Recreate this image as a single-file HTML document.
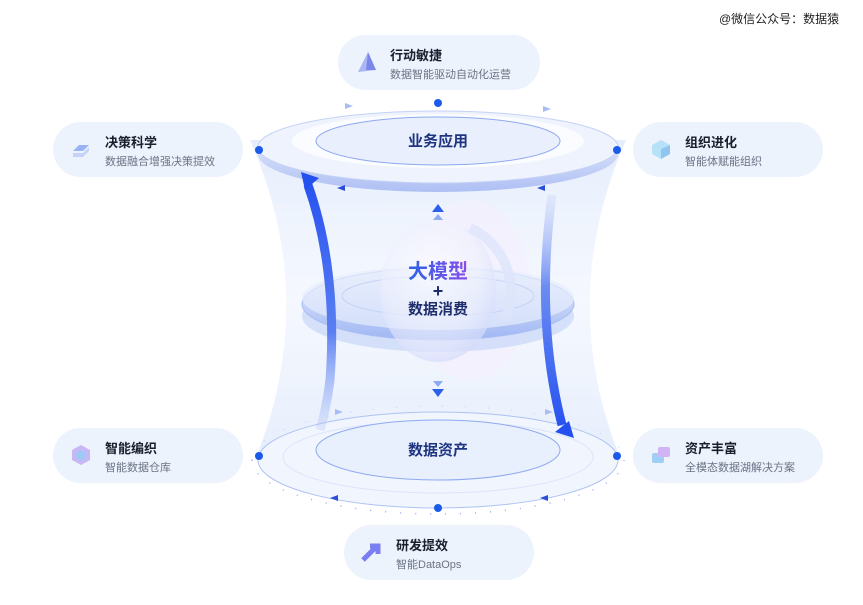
<!DOCTYPE html>
<html><head><meta charset="utf-8"><style>
html,body{margin:0;padding:0;background:#fff;}
body{width:863px;height:605px;position:relative;overflow:hidden;font-family:"Liberation Sans","Noto Sans CJK SC",sans-serif;}
.card{position:absolute;height:55px;border-radius:28px;background:#edf3fd;}
.card .t{position:absolute;left:52px;top:10px;font-size:13px;font-weight:bold;color:#1a1f2e;}
.card .s{position:absolute;left:52px;top:31px;font-size:11px;color:#6b7385;white-space:nowrap;}
.card .ic{position:absolute;left:16px;top:15px;width:24px;height:24px;}
.wm{position:absolute;left:719px;top:10px;font-size:12px;color:#222;}
</style></head><body>
<svg width="863" height="605" style="position:absolute;left:0;top:0">
<defs>
<linearGradient id="fun" x1="0" y1="0" x2="0" y2="1">
<stop offset="0" stop-color="#e3ecfc" stop-opacity=".9"/><stop offset=".5" stop-color="#eef3fd" stop-opacity=".6"/><stop offset="1" stop-color="#e3ecfc" stop-opacity=".9"/></linearGradient>
<radialGradient id="sph" cx=".45" cy=".4" r=".6"><stop offset="0" stop-color="#fff" stop-opacity=".6"/><stop offset=".7" stop-color="#eef0fd" stop-opacity=".6"/><stop offset="1" stop-color="#d6dcfa" stop-opacity=".7"/></radialGradient>
<linearGradient id="rim" x1="0" y1="0" x2="0" y2="1"><stop offset="0" stop-color="#f4f7fe"/><stop offset="1" stop-color="#aebff3"/></linearGradient>
<linearGradient id="arr" x1="0" y1="0" x2="0" y2="1"><stop offset="0" stop-color="#2853f0"/><stop offset=".6" stop-color="#5a7ff2"/><stop offset="1" stop-color="#b5c6f7" stop-opacity=".3"/></linearGradient>
<linearGradient id="arr2" x1="0" y1="0" x2="0" y2="1"><stop offset="0" stop-color="#c4d0f7" stop-opacity=".3"/><stop offset=".4" stop-color="#6b8cf2"/><stop offset="1" stop-color="#2853f0"/></linearGradient>
<linearGradient id="tx" x1="0" x2="1"><stop offset="0" stop-color="#2b63e6"/><stop offset="1" stop-color="#8a4de8"/></linearGradient>
<linearGradient id="disc" x1="0" y1="0" x2="0" y2="1"><stop offset="0" stop-color="#eef3fd"/><stop offset="1" stop-color="#9fb6f3"/></linearGradient>
</defs>
<path d="M250 140 Q320 300 255 460 L621 460 Q556 300 626 140 Z" fill="url(#fun)"/>
<ellipse cx="470" cy="290" rx="60" ry="90" fill="#f6eefd" opacity=".5"/>
<ellipse cx="438" cy="316" rx="136" ry="36" fill="#c8d6f8" opacity=".7"/>
<ellipse cx="438" cy="304" rx="136" ry="36" fill="url(#disc)" stroke="#a9bdf2"/>
<ellipse cx="438" cy="298" rx="136" ry="32" fill="#e6edfc" opacity=".7"/>
<ellipse cx="438" cy="296" rx="96" ry="20" fill="none" stroke="#c7d4f6"/>
<ellipse cx="438" cy="290" rx="58" ry="72" fill="url(#sph)"/>
<path d="M470 228 A70 70 0 0 1 505 320" stroke="#dde5fb" stroke-width="10" fill="none" opacity=".8"/>
<ellipse cx="438" cy="154" rx="180" ry="38" fill="url(#rim)"/>
<ellipse cx="438" cy="147" rx="180" ry="36" fill="#eef3fd" stroke="#c4d2f6"/>
<ellipse cx="438" cy="141" rx="146" ry="27" fill="#fafcff"/>
<ellipse cx="438" cy="141" rx="122" ry="24" fill="#e9effc" stroke="#8fa9ef"/>
<circle cx="438" cy="103" r="4" fill="#1b5bea"/>
<circle cx="259" cy="150" r="4" fill="#1b5bea"/>
<circle cx="617" cy="150" r="4" fill="#1b5bea"/>
<path d="M345 191 l-8 -3 8 -3z M545 191 l-8 -3 8 -3z" fill="#2a4fd6"/>
<path d="M345 109 l8 -3 -8 -3z M543 112 l8 -3 -8 -3z" fill="#a9bdf5"/>
<ellipse cx="438" cy="460" rx="180" ry="48" fill="#f0f5fe" stroke="#aec2f3"/>
<path d="M252 460 A186 54 0 0 0 624 460" fill="none" stroke="#7f9eee" stroke-width="1.5" stroke-dasharray="1 14" opacity=".8"/>
<path d="M252 460 A186 54 0 0 1 624 460" fill="none" stroke="#9fb5f2" stroke-width="1.2" stroke-dasharray="1 22" opacity=".5"/>
<ellipse cx="438" cy="457" rx="155" ry="36" fill="none" stroke="#dbe4fb"/>
<ellipse cx="438" cy="450" rx="122" ry="30" fill="#e9f0fd" stroke="#8fa9ef"/>
<circle cx="259" cy="456" r="4" fill="#1b5bea"/>
<circle cx="617" cy="456" r="4" fill="#1b5bea"/>
<circle cx="438" cy="508" r="4" fill="#1b5bea"/>
<path d="M330 498 l8 -3 0 6z M540 498 l8 -3 0 6z" fill="#2a4fd6"/>
<path d="M335 415 l8 -3 -8 -3z M545 415 l8 -3 -8 -3z" fill="#a9bdf5"/>
<path d="M308 185 Q338 270 330 380 Q326 410 320 430" stroke="url(#arr)" stroke-width="9" fill="none"/>
<path d="M301 172 l18 6 -14 12z" fill="#2450ef"/>
<path d="M552 195 Q535 320 562 425" stroke="url(#arr2)" stroke-width="9" fill="none"/>
<path d="M574 438 l-19 -6 14 -11z" fill="#2450ef"/>
<path d="M432 212 l6 -8 6 8z" fill="#2a61e8"/><path d="M433 220 l5 -6 5 6z" fill="#8eabf2"/>
<path d="M433 381 l5 6 5 -6z" fill="#8eabf2"/><path d="M432 389 l6 8 6 -8z" fill="#2a61e8"/>
<text x="438" y="146" text-anchor="middle" font-size="15" font-weight="bold" fill="#1e3480" font-family="Liberation Sans,Noto Sans CJK SC,sans-serif">业务应用</text>
<text x="438" y="455" text-anchor="middle" font-size="15" font-weight="bold" fill="#1e3480" font-family="Liberation Sans,Noto Sans CJK SC,sans-serif">数据资产</text>
<text x="438" y="278" text-anchor="middle" font-size="20" font-weight="bold" fill="url(#tx)" font-family="Liberation Sans,Noto Sans CJK SC,sans-serif">大模型</text>
<text x="438" y="297" text-anchor="middle" font-size="18" font-weight="bold" fill="#1e2d6b">+</text>
<text x="438" y="314" text-anchor="middle" font-size="15" font-weight="bold" fill="#1e2d6b" font-family="Liberation Sans,Noto Sans CJK SC,sans-serif">数据消费</text>
</svg>
<div class="wm">@微信公众号：数据猿</div>
<div class="card" style="left:338px;top:35px;width:202px"><svg class="ic" viewBox="0 0 24 24"><path d="M14 2 L4 22 L22 20Z" fill="#a9b6f3"/><path d="M14 2 L12 20 L22 20Z" fill="#7a86ea"/></svg><div class="t">行动敏捷</div><div class="s">数据智能驱动自动化运营</div></div>
<div class="card" style="left:53px;top:122px;width:190px"><svg class="ic" viewBox="0 0 24 24"><path d="M4 14 l6 -6 h10 l-6 6z" fill="#9ab3f3"/><path d="M4 16 h10 l6 -6 v4 l-6 6 h-10z" fill="#c5d3f8"/></svg><div class="t">决策科学</div><div class="s">数据融合增强决策提效</div></div>
<div class="card" style="left:633px;top:122px;width:190px"><svg class="ic" viewBox="0 0 24 24"><path d="M12 3 L21 8 V17 L12 22 L3 17 V8Z" fill="#b6e2f7"/><path d="M12 12 L21 8 V17 L12 22Z" fill="#8fc5f0"/></svg><div class="t">组织进化</div><div class="s">智能体赋能组织</div></div>
<div class="card" style="left:53px;top:428px;width:190px"><svg class="ic" viewBox="0 0 24 24"><path d="M12 2 L21 7 V17 L12 22 L3 17 V7Z" fill="#c9b6f5"/><path d="M12 7 L17 10 V15 L12 18 L7 15 V10Z" fill="#9fc8f5"/></svg><div class="t">智能编织</div><div class="s">智能数据仓库</div></div>
<div class="card" style="left:633px;top:428px;width:190px"><svg class="ic" viewBox="0 0 24 24"><rect x="3" y="10" width="12" height="10" rx="2" fill="#9fcff5"/><rect x="9" y="4" width="12" height="10" rx="2" fill="#d2b4f5"/></svg><div class="t">资产丰富</div><div class="s">全模态数据湖解决方案</div></div>
<div class="card" style="left:344px;top:525px;width:190px"><svg class="ic" viewBox="0 0 24 24"><path d="M3 20 L17 6 M10 6 H18 V14" stroke="#7b7ef0" stroke-width="5" fill="none"/></svg><div class="t">研发提效</div><div class="s">智能DataOps</div></div>
</body></html>
